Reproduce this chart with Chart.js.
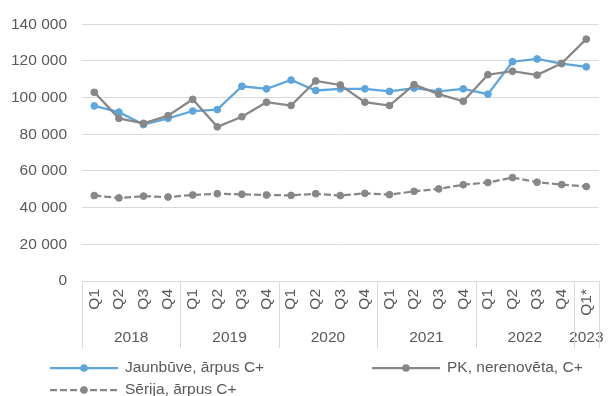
<!DOCTYPE html>
<html>
<head>
<meta charset="utf-8">
<script src="https://cdn.jsdelivr.net/npm/chart.js@4/dist/chart.umd.min.js"></script>
<style>
  html, body { margin: 0; padding: 0; background: #fff; }
  #wrap { width: 613px; height: 396px; position: relative; }
</style>
</head>
<body>
<div id="wrap"><canvas id="c" width="613" height="396"></canvas></div>
<script>
// Quarter labels and the year each quarter belongs to
const quarters = ['Q1','Q2','Q3','Q4','Q1','Q2','Q3','Q4','Q1','Q2','Q3','Q4','Q1','Q2','Q3','Q4','Q1','Q2','Q3','Q4','Q1*'];
const years = ['2018','2019','2020','2021','2022','2023'];
const quartersPerYear = [4, 4, 4, 4, 4, 1];

// Series values
const jaunbuve = [95500, 92100, 85300, 88700, 92700, 93500, 106200, 104800, 109600, 103900, 104800, 104800, 103400, 105200, 103400, 104800, 101900, 119600, 121100, 118500, 116800];
const pkNerenoveta = [102900, 88700, 86000, 90200, 99100, 84100, 89600, 97500, 95700, 109100, 106900, 97500, 95700, 107100, 101900, 98000, 112500, 114400, 112300, 118700, 131900];
const serija = [46600, 45300, 46300, 45800, 46900, 47600, 47300, 46900, 46700, 47600, 46600, 47800, 47100, 48900, 50200, 52500, 53700, 56400, 53900, 52600, 51500];

// Y axis tick values
const yTicks = [0, 20000, 40000, 60000, 80000, 100000, 120000, 140000];

const BLUE = '#5DA5DD';
const GRAY = '#878787';
const TEXT = '#595959';
const GRID = '#D9D9D9';
const FONT = '"Liberation Sans", Arial, sans-serif';
const FS = 15.5;

const fmt = v => String(v).replace(/\B(?=(\d{3})+(?!\d))/g, ' ');

// Year row under the quarter labels, with group separators
const yearAxis = {
  id: 'yearAxis',
  afterDraw(chart) {
    const ctx = chart.ctx;
    const x = chart.scales.x;
    const area = chart.chartArea;
    const step = x.getPixelForValue(1) - x.getPixelForValue(0);
    ctx.save();
    ctx.strokeStyle = GRID;
    ctx.lineWidth = 1;
    ctx.fillStyle = TEXT;
    ctx.font = FS + 'px ' + FONT;
    ctx.textAlign = 'center';
    ctx.textBaseline = 'middle';
    let idx = 0;
    const edges = [];
    years.forEach((y, i) => {
      const n = quartersPerYear[i];
      const left = x.getPixelForValue(idx) - step / 2;
      const right = x.getPixelForValue(idx + n - 1) + step / 2;
      if (i === 0) edges.push(left);
      edges.push(right);
      ctx.fillText(y, (left + right) / 2, area.bottom + 57);
      idx += n;
    });
    edges.forEach(e => {
      const px = Math.round(e) + 0.5;
      ctx.beginPath();
      ctx.moveTo(px, area.bottom);
      ctx.lineTo(px, area.bottom + 67);
      ctx.stroke();
    });
    ctx.restore();
  }
};

// Legend laid out in two columns below the axis
const gridLegend = {
  id: 'gridLegend',
  afterDraw(chart) {
    const ctx = chart.ctx;
    const slots = [
      { ds: 0, x: 50, y: 368 },
      { ds: 1, x: 372, y: 368 },
      { ds: 2, x: 50, y: 390 }
    ];
    ctx.save();
    ctx.font = FS + 'px ' + FONT;
    ctx.textBaseline = 'middle';
    ctx.textAlign = 'left';
    slots.forEach(s => {
      const d = chart.data.datasets[s.ds];
      ctx.strokeStyle = d.borderColor;
      ctx.lineWidth = d.borderWidth;
      ctx.setLineDash(d.borderDash || []);
      ctx.beginPath();
      ctx.moveTo(s.x, s.y);
      ctx.lineTo(s.x + 68, s.y);
      ctx.stroke();
      ctx.setLineDash([]);
      ctx.fillStyle = d.pointBackgroundColor;
      ctx.beginPath();
      ctx.arc(s.x + 34, s.y, 3.8, 0, Math.PI * 2);
      ctx.fill();
      ctx.fillStyle = TEXT;
      ctx.fillText(d.label, s.x + 75, s.y);
    });
    ctx.restore();
  }
};

new Chart(document.getElementById('c'), {
  type: 'line',
  data: {
    labels: quarters,
    datasets: [
      {
        label: 'Jaunbūve, ārpus C+',
        data: jaunbuve,
        borderColor: BLUE,
        backgroundColor: BLUE,
        pointBackgroundColor: BLUE,
        pointBorderColor: BLUE,
        borderWidth: 2.25,
        pointRadius: 3.4,
        pointBorderWidth: 1,
        tension: 0,
        order: 1
      },
      {
        label: 'PK, nerenovēta, C+',
        data: pkNerenoveta,
        borderColor: GRAY,
        backgroundColor: GRAY,
        pointBackgroundColor: GRAY,
        pointBorderColor: GRAY,
        borderWidth: 2.25,
        pointRadius: 3.4,
        pointBorderWidth: 1,
        tension: 0,
        order: 0
      },
      {
        label: 'Sērija, ārpus C+',
        data: serija,
        borderColor: GRAY,
        backgroundColor: GRAY,
        pointBackgroundColor: GRAY,
        pointBorderColor: GRAY,
        borderWidth: 2.25,
        borderDash: [7, 3],
        pointRadius: 3.4,
        pointBorderWidth: 1,
        tension: 0,
        order: 2
      }
    ]
  },
  options: {
    responsive: false,
    animation: false,
    events: [],
    layout: { padding: { top: 20, right: 5, left: 0, bottom: 0 } },
    plugins: {
      legend: { display: false },
      tooltip: { enabled: false }
    },
    scales: {
      x: {
        type: 'category',
        offset: true,
        grid: { display: false, drawTicks: false },
        border: { display: false },
        ticks: {
          color: TEXT,
          font: { family: FONT, size: FS },
          minRotation: 90,
          maxRotation: 90,
          autoSkip: false,
          padding: 8
        },
        afterFit(scale) { scale.height = 115; }
      },
      y: {
        min: 0,
        max: 140000,
        afterBuildTicks(scale) { scale.ticks = yTicks.map(v => ({ value: v })); },
        grid: { color: GRID, lineWidth: 1, drawTicks: false },
        border: { display: false },
        ticks: {
          color: TEXT,
          font: { family: FONT, size: FS },
          padding: 15,
          callback: v => fmt(v)
        },
        afterFit(scale) { scale.width = 82; }
      }
    }
  },
  plugins: [yearAxis, gridLegend]
});
</script>
</body>
</html>
